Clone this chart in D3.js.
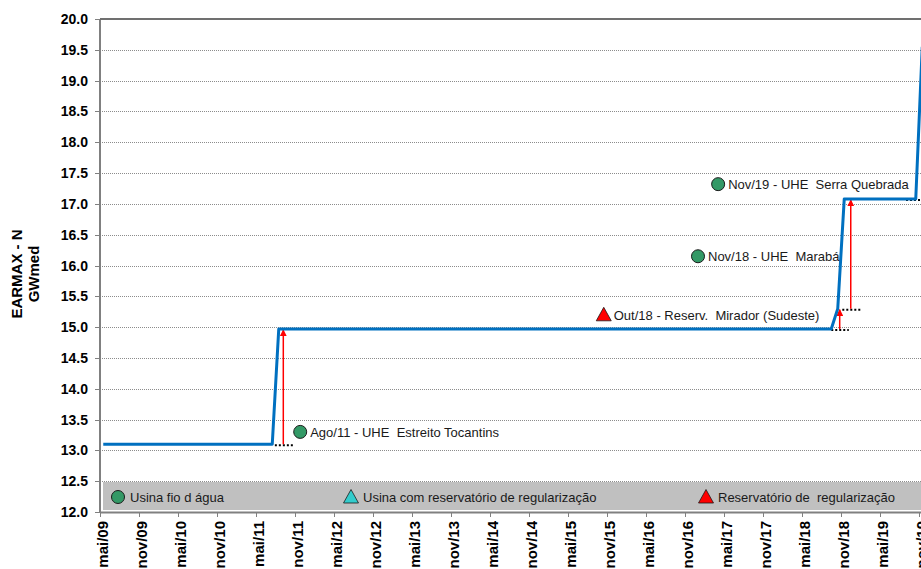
<!DOCTYPE html>
<html>
<head>
<meta charset="utf-8">
<script src="https://cdn.jsdelivr.net/npm/d3@7"></script>
<style>
  html, body { margin: 0; padding: 0; background: #fff; overflow: hidden; }
  svg { display: block; font-family: "Liberation Sans", Arial, sans-serif; }
  svg text { white-space: pre; }
</style>
</head>
<body>
<div id="chart"></div>
<script>
// month abbreviations (pt-BR) used to place values on the month axis
var monthNames = ['jan','fev','mar','abr','mai','jun','jul','ago','set','out','nov','dez'];

// x tick labels, every six months
var tickLabels = ['mai/09','nov/09','mai/10','nov/10','mai/11','nov/11','mai/12','nov/12',
                  'mai/13','nov/13','mai/14','nov/14','mai/15','nov/15','mai/16','nov/16',
                  'mai/17','nov/17','mai/18','nov/18','mai/19','nov/19'];

// y ticks
var yTicks = [12.0,12.5,13.0,13.5,14.0,14.5,15.0,15.5,16.0,16.5,17.0,17.5,18.0,18.5,19.0,19.5,20.0];

// EARMAX series (corner points of the step curve)
var earmaxMonths = ['mai/09','jul/11','ago/11','set/18','out/18','nov/18','out/19','nov/19'];
var earmaxValues = [13.1, 13.1, 14.97, 14.97, 15.3, 17.08, 17.08, 19.55];

// annotations: marker position (months after mai/09, value), label
var noteMonths = [30.8, 77.5, 92.0, 95.1];
var noteValues = [13.3, 15.2, 16.15, 17.32];
var noteLabels = ['Ago/11 - UHE  Estreito Tocantins', 'Out/18 - Reserv.  Mirador (Sudeste)',
                  'Nov/18 - UHE  Marabá', 'Nov/19 - UHE  Serra Quebrada'];
var noteTypes  = ['fio', 'reserv', 'fio', 'fio'];

// red arrows: month, from value, to value
var arrowMonths = [28.2, 113.8, 115.5];
var arrowFrom   = [13.1, 14.97, 15.3];
var arrowTo     = [14.97, 15.3, 17.08];

// dotted reference stubs: from month, to month, value
var stubFrom  = [26.9, 112.5, 114.2, 124.0];
var stubTo    = [29.7, 115.2, 117.1, 127.0];
var stubValue = [13.1, 14.97, 15.3, 17.08];

// legend
var legendLabels = ['Usina fio d água', 'Usina com reservatório de regularização', 'Reservatório de  regularização'];
var legendTypes  = ['fio', 'usinaReserv', 'reserv'];

var W = 921, H = 569;
var margin = {top: 19, left: 100, bottom: 57};
var monthCount = 126;

function monthIndex(s){
    var p = s.split('/');
    return (2000 + (+p[1]) - 2009) * 12 + monthNames.indexOf(p[0]) - 4;
}

var x = d3.scaleLinear().domain([0, monthCount]).range([margin.left, margin.left + monthCount * 6.5]);
var y = d3.scaleLinear().domain([12, 20]).range([H - margin.bottom, margin.top]);
var px = function(m){ return x(m + 0.5); };

var svg = d3.select('#chart').append('svg')
    .attr('width', W).attr('height', H);

var defs = svg.append('defs');
defs.append('clipPath').attr('id', 'plotclip')
    .append('rect').attr('x', margin.left).attr('y', margin.top)
    .attr('width', 1000).attr('height', y(12) - margin.top);
defs.append('marker').attr('id', 'arrowhead')
    .attr('viewBox', '0 0 10 10').attr('refX', 9).attr('refY', 5)
    .attr('markerWidth', 7).attr('markerHeight', 7).attr('markerUnits', 'userSpaceOnUse')
    .attr('orient', 'auto')
  .append('path').attr('d', 'M0,0L10,5L0,10z').attr('fill', '#ff0000');

// gridlines
svg.append('g').classed('grid', true)
  .selectAll('line').data(yTicks.slice(1, -1)).enter().append('line')
    .attr('x1', margin.left).attr('x2', W)
    .attr('y1', function(d){ return Math.round(y(d)) + 0.5; })
    .attr('y2', function(d){ return Math.round(y(d)) + 0.5; })
    .attr('stroke', '#8c8c8c').attr('stroke-dasharray', '1,1');

// legend band
var legend = svg.append('g').classed('legend', true);
legend.append('rect').attr('x', 103).attr('y', 482).attr('width', W - 103).attr('height', 28)
    .attr('fill', '#c0c0c0');

function drawSymbol(g, type, cx, cy){
    if (type === 'fio') {
        g.append('circle').attr('cx', cx).attr('cy', cy).attr('r', 6.5)
            .attr('fill', '#339966').attr('stroke', '#1a1a1a').attr('stroke-width', 1);
    } else {
        var s = 7.5;
        g.append('path')
            .attr('d', 'M' + cx + ',' + (cy - s) + 'L' + (cx + s) + ',' + (cy + s * 0.8) + 'L' + (cx - s) + ',' + (cy + s * 0.8) + 'Z')
            .attr('fill', type === 'reserv' ? '#ff0000' : '#33cccc')
            .attr('stroke', '#1a1a1a').attr('stroke-width', 0.8);
    }
}

var legendX = [118, 351, 706];
legendLabels.forEach(function(l, i){
    drawSymbol(legend, legendTypes[i], legendX[i], 497);
    legend.append('text').attr('x', legendX[i] + 12).attr('y', 502)
        .attr('font-size', '13px').attr('fill', '#1a1a1a').text(l);
});

// axes
var yAxis = svg.append('g').classed('yaxis', true);
yAxis.selectAll('line.tick').data(yTicks).enter().append('line').classed('tick', true)
    .attr('x1', margin.left - 5).attr('x2', margin.left)
    .attr('y1', function(d){ return Math.round(y(d)) + 0.5; })
    .attr('y2', function(d){ return Math.round(y(d)) + 0.5; })
    .attr('stroke', '#808080');
yAxis.selectAll('text').data(yTicks).enter().append('text')
    .attr('x', 88).attr('y', function(d){ return y(d); }).attr('dy', '0.36em')
    .attr('text-anchor', 'end').attr('font-size', '14px').attr('font-weight', 'bold')
    .text(function(d){ return d3.format('.1f')(d); });

svg.append('line').attr('x1', margin.left).attr('x2', margin.left)
    .attr('y1', margin.top).attr('y2', y(12) + 1)
    .attr('stroke', '#808080').attr('stroke-width', 2);
svg.append('line').attr('x1', margin.left).attr('x2', W)
    .attr('y1', margin.top).attr('y2', margin.top)
    .attr('stroke', '#707070').attr('stroke-width', 2);
svg.append('line').attr('x1', margin.left).attr('x2', W)
    .attr('y1', y(12) + 0.5).attr('y2', y(12) + 0.5)
    .attr('stroke', '#808080').attr('stroke-width', 2);

var xAxis = svg.append('g').classed('xaxis', true);
xAxis.selectAll('line').data(tickLabels).enter().append('line')
    .attr('x1', function(d){ return Math.round(x(monthIndex(d))) + 0.5; })
    .attr('x2', function(d){ return Math.round(x(monthIndex(d))) + 0.5; })
    .attr('y1', y(12)).attr('y2', y(12) + 5)
    .attr('stroke', '#808080');
xAxis.selectAll('text').data(tickLabels).enter().append('text')
    .attr('transform', function(d){ return 'translate(' + [x(monthIndex(d)) + 3, 521] + ') rotate(-90)'; })
    .attr('dy', '0.36em').attr('text-anchor', 'end')
    .attr('font-size', '15px').attr('font-weight', 'bold')
    .text(function(d){ return d; });

// y axis title
var ttl = svg.append('g').attr('transform', 'translate(' + [17, 274] + ') rotate(-90)');
ttl.append('text').attr('text-anchor', 'middle').attr('dy', '0.36em')
    .attr('font-size', '15px').attr('font-weight', 'bold').text('EARMAX - N');
ttl.append('text').attr('text-anchor', 'middle').attr('dy', '0.36em').attr('y', 17)
    .attr('font-size', '15px').attr('font-weight', 'bold').text('GWmed');

// dotted stubs
svg.append('g').selectAll('line').data(stubValue).enter().append('line')
    .attr('x1', function(d, i){ return x(stubFrom[i]); })
    .attr('x2', function(d, i){ return x(stubTo[i]); })
    .attr('y1', function(d){ return y(d) + 1; })
    .attr('y2', function(d){ return y(d) + 1; })
    .attr('stroke', '#000').attr('stroke-width', 2).attr('stroke-dasharray', '2,2');

// red arrows
svg.append('g').selectAll('line').data(arrowMonths).enter().append('line')
    .attr('x1', function(d){ return x(d); }).attr('x2', function(d){ return x(d); })
    .attr('y1', function(d, i){ return y(arrowFrom[i]); })
    .attr('y2', function(d, i){ return y(arrowTo[i]) + 1; })
    .attr('stroke', '#ff0000').attr('stroke-width', 1.5)
    .attr('marker-end', 'url(#arrowhead)');

// EARMAX line
var pts = earmaxMonths.map(function(m, i){ return [px(monthIndex(m)), y(earmaxValues[i])]; });
svg.append('g').attr('clip-path', 'url(#plotclip)')
  .append('path').attr('d', d3.line()(pts))
    .attr('fill', 'none').attr('stroke', '#0070c0').attr('stroke-width', 3)
    .attr('stroke-linejoin', 'round');

// annotations
var notes = svg.append('g').classed('notes', true);
noteLabels.forEach(function(l, i){
    var cx = x(noteMonths[i]), cy = y(noteValues[i]);
    drawSymbol(notes, noteTypes[i], cx, cy);
    notes.append('text').attr('x', cx + 10).attr('y', cy + 5)
        .attr('font-size', '13px').attr('fill', '#1a1a1a').text(l);
});
</script>
</body>
</html>
